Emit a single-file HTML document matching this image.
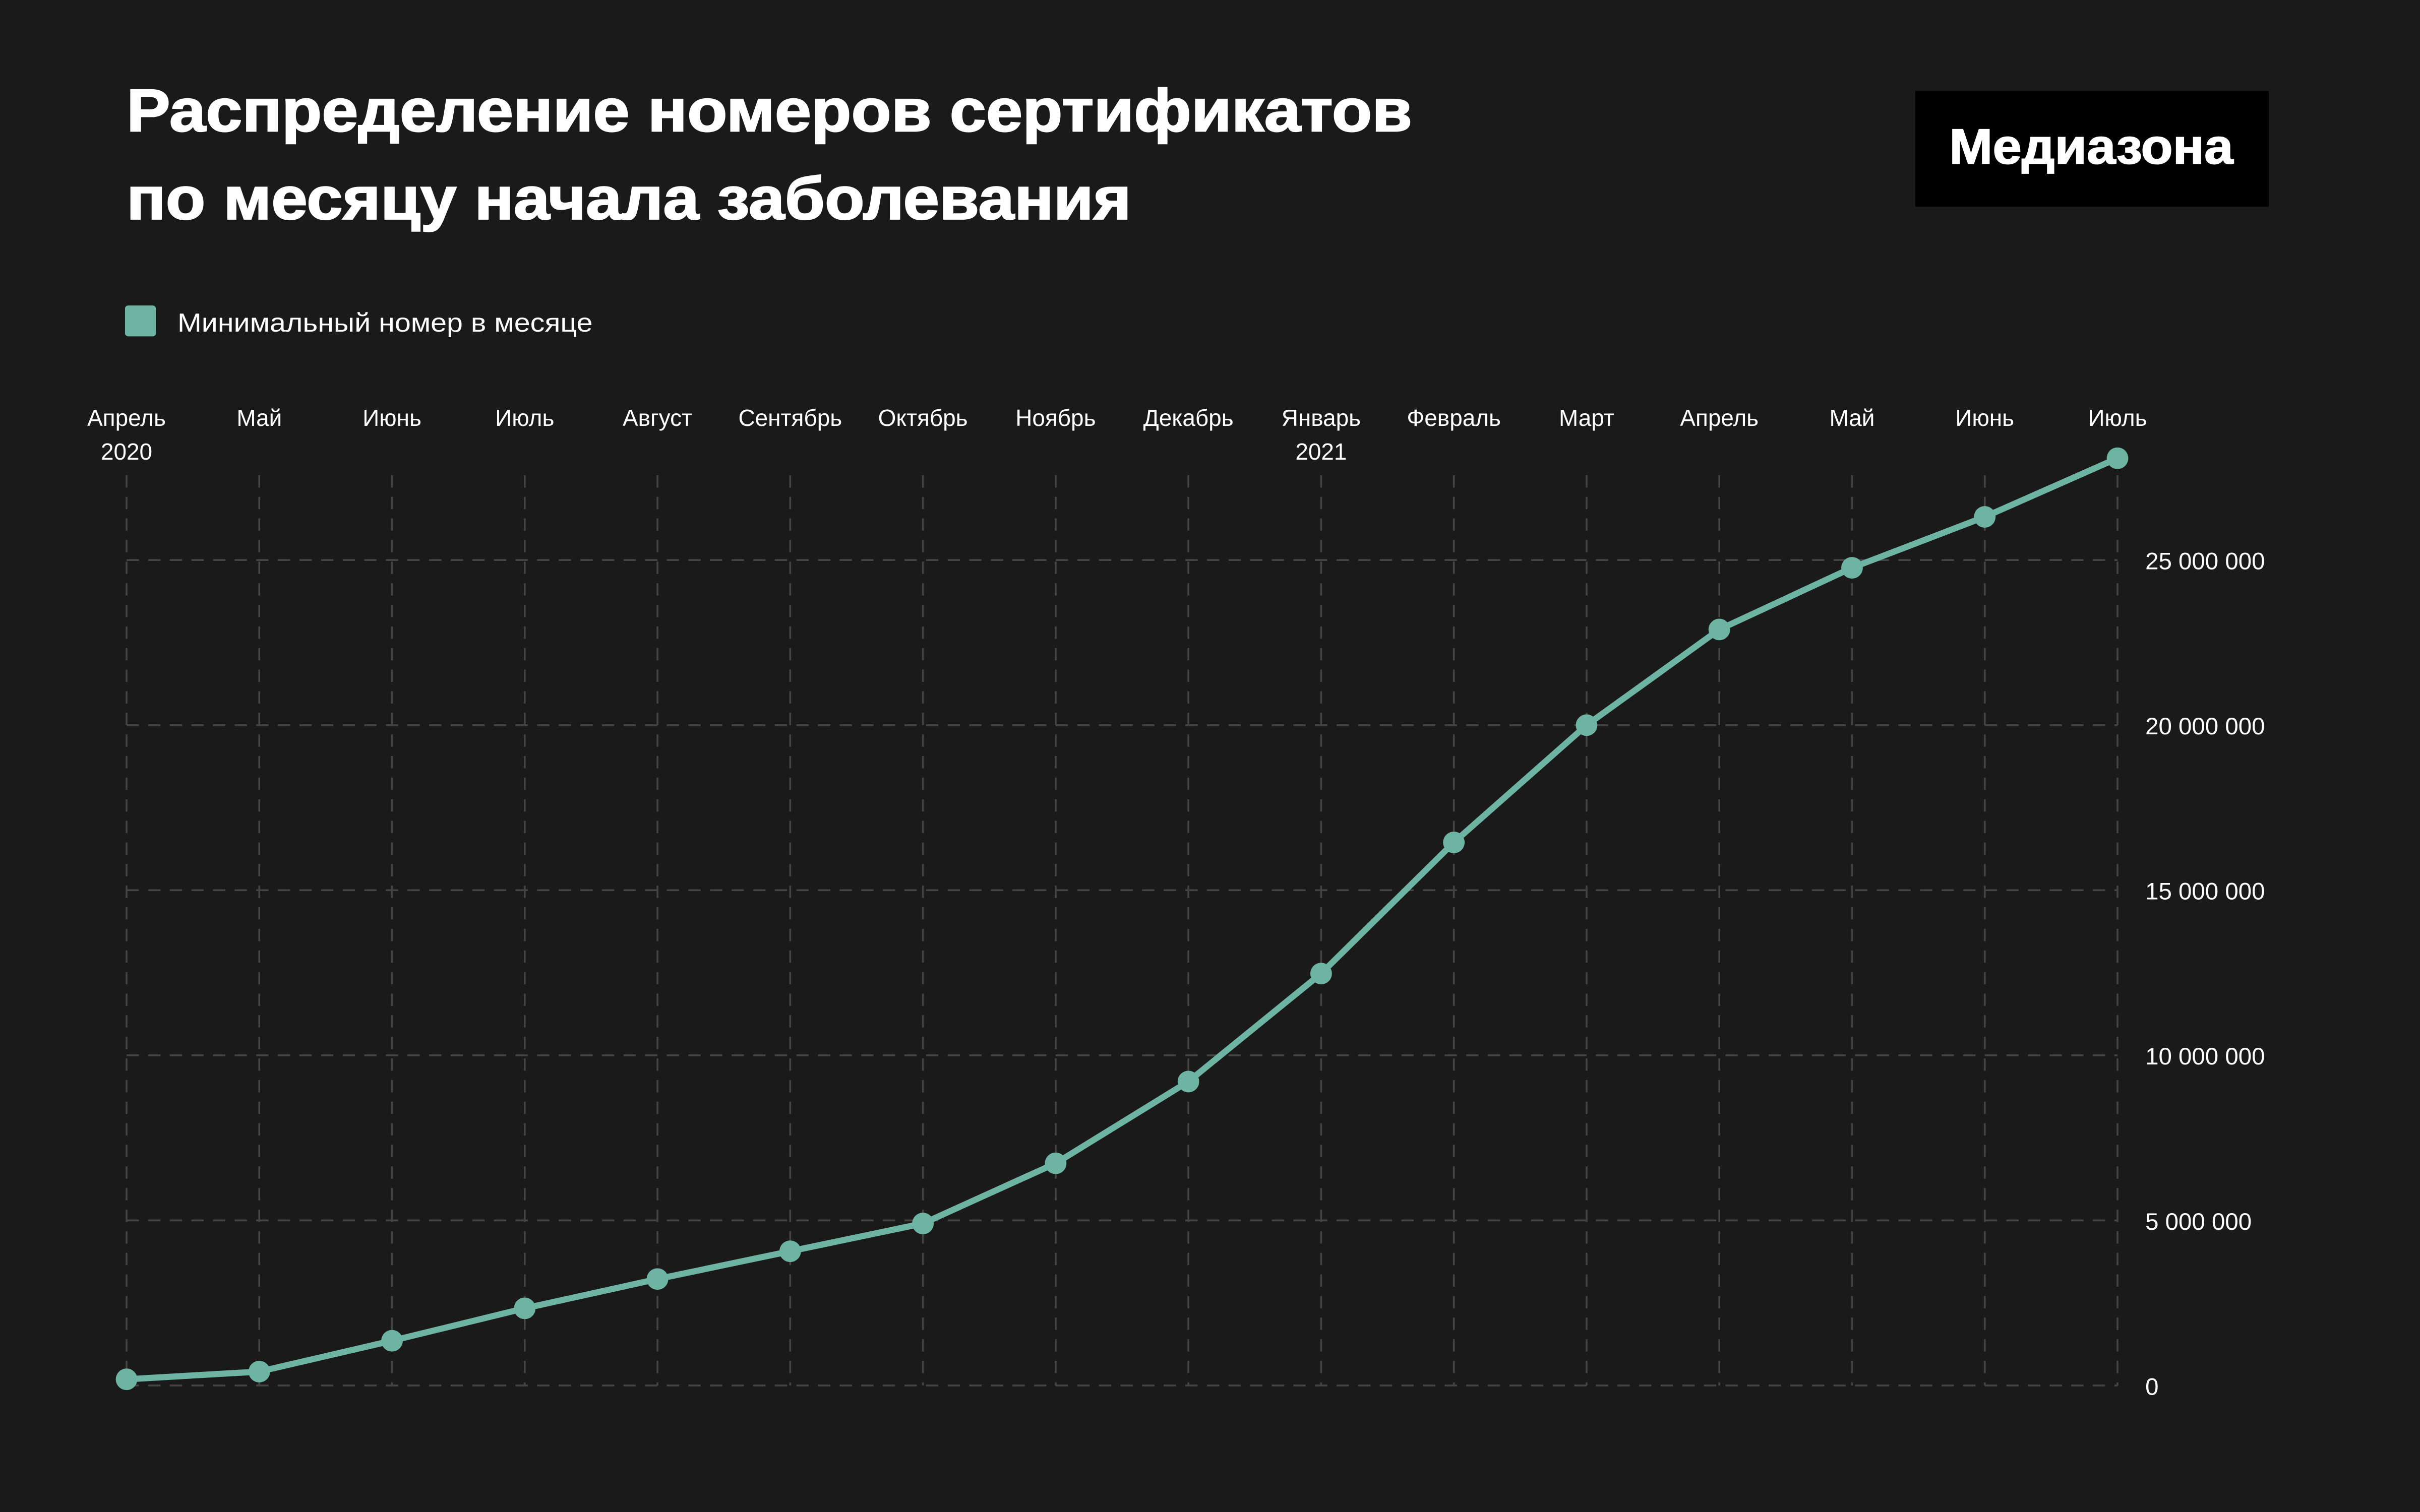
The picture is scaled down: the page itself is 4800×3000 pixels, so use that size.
<!DOCTYPE html>
<html><head><meta charset="utf-8"><style>
html,body{margin:0;padding:0;background:#1a1a1a;}
svg{display:block;}
</style></head><body>
<svg width="4800" height="3000" viewBox="0 0 1568 980" xmlns="http://www.w3.org/2000/svg" font-family="Liberation Sans, DejaVu Sans, sans-serif">
<rect width="1568" height="980" fill="#1a1a1a"/>
<text x="82" y="85" fill="#fff" font-size="39" font-weight="bold" stroke="#fff" stroke-width="0.8" textLength="833" lengthAdjust="spacingAndGlyphs">Распределение номеров сертификатов</text>
<text x="82" y="142" fill="#fff" font-size="39" font-weight="bold" stroke="#fff" stroke-width="0.8" textLength="651" lengthAdjust="spacingAndGlyphs">по месяцу начала заболевания</text>
<rect x="1241" y="59" width="229" height="75" fill="#000"/>
<text x="1263" y="106" fill="#fff" font-size="32" font-weight="bold" stroke="#fff" stroke-width="0.6" textLength="184" lengthAdjust="spacingAndGlyphs">Медиазона</text>
<rect x="81" y="198" width="20" height="20" rx="2" fill="#6db5a2"/>
<text x="115" y="215" fill="#fff" font-size="17" textLength="269" lengthAdjust="spacingAndGlyphs">Минимальный номер в месяце</text>
<g stroke="#444" stroke-width="1.2" stroke-dasharray="8,6" fill="none">
<path d="M82 308V898M168 308V898M254 308V898M340 308V898M426 308V898M512 308V898M598 308V898M684 308V898M770 308V898M856 308V898M942 308V898M1028 308V898M1114 308V898M1200 308V898M1286 308V898M1372 308V898"/>
<path d="M82 363H1372M82 470H1372M82 577H1372M82 684H1372M82 791H1372M82 898H1372"/>
</g>
<g fill="#fff" font-size="15" text-anchor="middle">
<text x="82" y="276">Апрель</text><text x="82" y="298">2020</text>
<text x="168" y="276">Май</text><text x="254" y="276">Июнь</text><text x="340" y="276">Июль</text>
<text x="426" y="276">Август</text><text x="512" y="276">Сентябрь</text><text x="598" y="276">Октябрь</text>
<text x="684" y="276">Ноябрь</text><text x="770" y="276">Декабрь</text>
<text x="856" y="276">Январь</text><text x="856" y="298">2021</text>
<text x="942" y="276">Февраль</text><text x="1028" y="276">Март</text><text x="1114" y="276">Апрель</text>
<text x="1200" y="276">Май</text><text x="1286" y="276">Июнь</text><text x="1372" y="276">Июль</text>
</g>
<g fill="#fff" font-size="15.5">
<text x="1390" y="369">25 000 000</text><text x="1390" y="476">20 000 000</text>
<text x="1390" y="583">15 000 000</text><text x="1390" y="690">10 000 000</text>
<text x="1390" y="797">5 000 000</text><text x="1390" y="904">0</text>
</g>
<polyline fill="none" stroke="#6db5a2" stroke-width="4" stroke-linejoin="round"
points="82,894 168,889 254,869 340,848 426,829 512,811 598,793 684,754 770,701 856,631 942,546 1028,470 1114,408 1200,368 1286,335 1372,297"/>
<g fill="#6db5a2">
<circle cx="82" cy="894" r="7"/><circle cx="168" cy="889" r="7"/><circle cx="254" cy="869" r="7"/>
<circle cx="340" cy="848" r="7"/><circle cx="426" cy="829" r="7"/><circle cx="512" cy="811" r="7"/>
<circle cx="598" cy="793" r="7"/><circle cx="684" cy="754" r="7"/><circle cx="770" cy="701" r="7"/>
<circle cx="856" cy="631" r="7"/><circle cx="942" cy="546" r="7"/><circle cx="1028" cy="470" r="7"/>
<circle cx="1114" cy="408" r="7"/><circle cx="1200" cy="368" r="7"/><circle cx="1286" cy="335" r="7"/>
<circle cx="1372" cy="297" r="7"/>
</g>
</svg>
</body></html>
